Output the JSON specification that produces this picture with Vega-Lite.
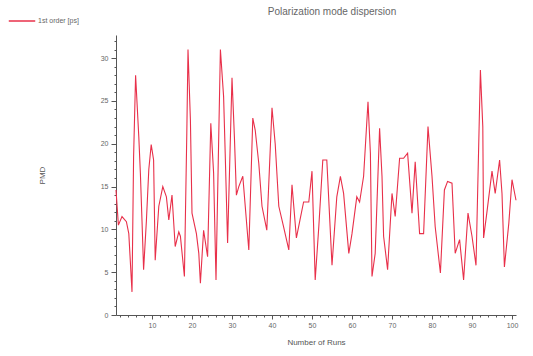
{
  "$schema": "https://vega.github.io/schema/vega-lite/v6.json",
  "width": 400,
  "height": 280,
  "autosize": {"type": "none"},
  "padding": {"left": 116, "top": 35, "right": 17, "bottom": 41},
  "background": "white",
  "title": {"text": "Polarization mode dispersion", "fontSize": 10, "font": "Liberation Sans", "fontWeight": "normal", "color": "#666666", "offset": 0, "dx": 16, "dy": 10},
  "config": {"view": {"stroke": null}, "font": "Liberation Sans"},
  "data": {"values": [
    {"run": 1.0, "pmd": 14.6}, {"run": 1.6, "pmd": 10.5}, {"run": 2.5, "pmd": 11.5}, {"run": 3.6, "pmd": 10.9},
    {"run": 4.2, "pmd": 9.5}, {"run": 5.0, "pmd": 2.7}, {"run": 5.4, "pmd": 18.5}, {"run": 5.9, "pmd": 28},
    {"run": 6.7, "pmd": 20.8}, {"run": 7.1, "pmd": 16.5}, {"run": 7.5, "pmd": 11}, {"run": 7.9, "pmd": 5.3},
    {"run": 8.6, "pmd": 11}, {"run": 9.2, "pmd": 17}, {"run": 9.8, "pmd": 19.9}, {"run": 10.4, "pmd": 18.1},
    {"run": 10.8, "pmd": 6.4}, {"run": 11.7, "pmd": 12.7}, {"run": 12.7, "pmd": 15}, {"run": 13.6, "pmd": 13.8},
    {"run": 14.2, "pmd": 11.1}, {"run": 15.0, "pmd": 14}, {"run": 15.8, "pmd": 8}, {"run": 16.7, "pmd": 9.7},
    {"run": 17.1, "pmd": 9.2}, {"run": 18.1, "pmd": 4.5}, {"run": 18.7, "pmd": 21.2}, {"run": 19.0, "pmd": 31},
    {"run": 19.6, "pmd": 22.8}, {"run": 20.0, "pmd": 11.9}, {"run": 21.1, "pmd": 9.5}, {"run": 21.7, "pmd": 7.2},
    {"run": 22.1, "pmd": 3.7}, {"run": 22.9, "pmd": 9.9}, {"run": 23.9, "pmd": 6.8}, {"run": 24.7, "pmd": 22.4},
    {"run": 25.4, "pmd": 16.6}, {"run": 26.0, "pmd": 4.1}, {"run": 27.1, "pmd": 31}, {"run": 27.9, "pmd": 25.5},
    {"run": 28.3, "pmd": 18.9}, {"run": 28.9, "pmd": 8.4}, {"run": 30.0, "pmd": 27.7}, {"run": 30.6, "pmd": 20.8},
    {"run": 31.1, "pmd": 14}, {"run": 31.7, "pmd": 15}, {"run": 32.7, "pmd": 16.2}, {"run": 34.2, "pmd": 7.6},
    {"run": 35.2, "pmd": 23}, {"run": 35.8, "pmd": 21.6}, {"run": 36.7, "pmd": 17.7}, {"run": 37.5, "pmd": 12.7},
    {"run": 38.7, "pmd": 9.9}, {"run": 40.0, "pmd": 24.2}, {"run": 40.8, "pmd": 20}, {"run": 41.7, "pmd": 12.7},
    {"run": 42.9, "pmd": 10.3}, {"run": 44.2, "pmd": 7.6}, {"run": 45.0, "pmd": 15.2}, {"run": 46.1, "pmd": 9},
    {"run": 47.0, "pmd": 11.1}, {"run": 47.9, "pmd": 13.2}, {"run": 49.2, "pmd": 13.2}, {"run": 50.0, "pmd": 16.8},
    {"run": 50.8, "pmd": 4.1}, {"run": 51.7, "pmd": 10.3}, {"run": 52.7, "pmd": 18.1}, {"run": 53.7, "pmd": 18.1},
    {"run": 55.0, "pmd": 5.8}, {"run": 56.2, "pmd": 13.8}, {"run": 57.1, "pmd": 16.2}, {"run": 57.9, "pmd": 14.2},
    {"run": 59.2, "pmd": 7.2}, {"run": 60.0, "pmd": 9.5}, {"run": 61.2, "pmd": 13.8}, {"run": 61.9, "pmd": 13.2},
    {"run": 62.9, "pmd": 16.2}, {"run": 64.0, "pmd": 24.9}, {"run": 64.6, "pmd": 18.9}, {"run": 65.0, "pmd": 4.5},
    {"run": 65.8, "pmd": 7.2}, {"run": 66.9, "pmd": 21.8}, {"run": 67.5, "pmd": 16.2}, {"run": 67.9, "pmd": 9.2},
    {"run": 68.9, "pmd": 5.3}, {"run": 70.0, "pmd": 14.2}, {"run": 70.8, "pmd": 11.5}, {"run": 71.9, "pmd": 18.3},
    {"run": 72.9, "pmd": 18.3}, {"run": 73.9, "pmd": 18.9}, {"run": 75.0, "pmd": 11.9}, {"run": 75.8, "pmd": 17.9},
    {"run": 76.9, "pmd": 9.5}, {"run": 77.9, "pmd": 9.5}, {"run": 79.0, "pmd": 22}, {"run": 80.0, "pmd": 16.2},
    {"run": 80.8, "pmd": 10.3}, {"run": 82.1, "pmd": 4.9}, {"run": 83.1, "pmd": 14.6}, {"run": 83.9, "pmd": 15.6},
    {"run": 85.0, "pmd": 15.4}, {"run": 85.8, "pmd": 7.2}, {"run": 86.9, "pmd": 8.8}, {"run": 87.9, "pmd": 4.1},
    {"run": 89.0, "pmd": 11.9}, {"run": 90.0, "pmd": 9.2}, {"run": 91.0, "pmd": 5.8}, {"run": 92.1, "pmd": 28.6},
    {"run": 92.7, "pmd": 22}, {"run": 92.9, "pmd": 9}, {"run": 93.7, "pmd": 11.9}, {"run": 95.0, "pmd": 16.8},
    {"run": 95.8, "pmd": 14.2}, {"run": 96.9, "pmd": 18.1}, {"run": 97.5, "pmd": 14.2}, {"run": 98.1, "pmd": 5.6},
    {"run": 99.2, "pmd": 10.7}, {"run": 100.0, "pmd": 15.8}, {"run": 101.0, "pmd": 13.4}
  ]},
  "transform": [{"calculate": "'1st order [ps]'", "as": "series"}],
  "mark": {"type": "line", "strokeWidth": 1.1, "interpolate": "linear"},
  "encoding": {
    "x": {
      "field": "run", "type": "quantitative",
      "scale": {"domain": [1, 101], "nice": false, "zero": false},
      "axis": {
        "title": "Number of Runs", "titleFontSize": 8, "titleFontWeight": "normal", "titleColor": "#555555", "titlePadding": 10,
        "values": [2,4,6,8,10,12,14,16,18,20,22,24,26,28,30,32,34,36,38,40,42,44,46,48,50,52,54,56,58,60,62,64,66,68,70,72,74,76,78,80,82,84,86,88,90,92,94,96,98,100],
        "labelExpr": "datum.value % 10 === 0 ? datum.label : ''",
        "tickSize": {"condition": {"test": "datum.value % 10 === 0", "value": 4}, "value": 2},
        "labelFontSize": 7, "labelColor": "#666666", "labelPadding": 2,
        "domainColor": "#555555", "tickColor": "#555555", "grid": false, "labelOverlap": false
      }
    },
    "y": {
      "field": "pmd", "type": "quantitative",
      "scale": {"domain": [0, 32.7], "nice": false},
      "axis": {
        "title": "PMD", "titleFontSize": 8, "titleFontWeight": "normal", "titleColor": "#555555", "titlePadding": 54,
        "values": [0,1,2,3,4,5,6,7,8,9,10,11,12,13,14,15,16,17,18,19,20,21,22,23,24,25,26,27,28,29,30,31,32],
        "labelExpr": "datum.value % 5 === 0 ? datum.label : ''",
        "tickSize": {"condition": {"test": "datum.value % 5 === 0", "value": 5}, "value": 2},
        "labelFontSize": 7, "labelColor": "#666666", "labelPadding": 3,
        "domainColor": "#555555", "tickColor": "#555555", "grid": false, "labelOverlap": false
      }
    },
    "color": {
      "field": "series", "type": "nominal",
      "scale": {"range": ["#e8304a"]},
      "legend": {
        "title": null, "orient": "none", "legendX": -108, "legendY": -28,
        "symbolType": "stroke", "symbolSize": 700, "symbolStrokeWidth": 1.5,
        "labelFontSize": 7, "labelColor": "#666666", "labelOffset": 2, "padding": 0
      }
    }
  }
}
